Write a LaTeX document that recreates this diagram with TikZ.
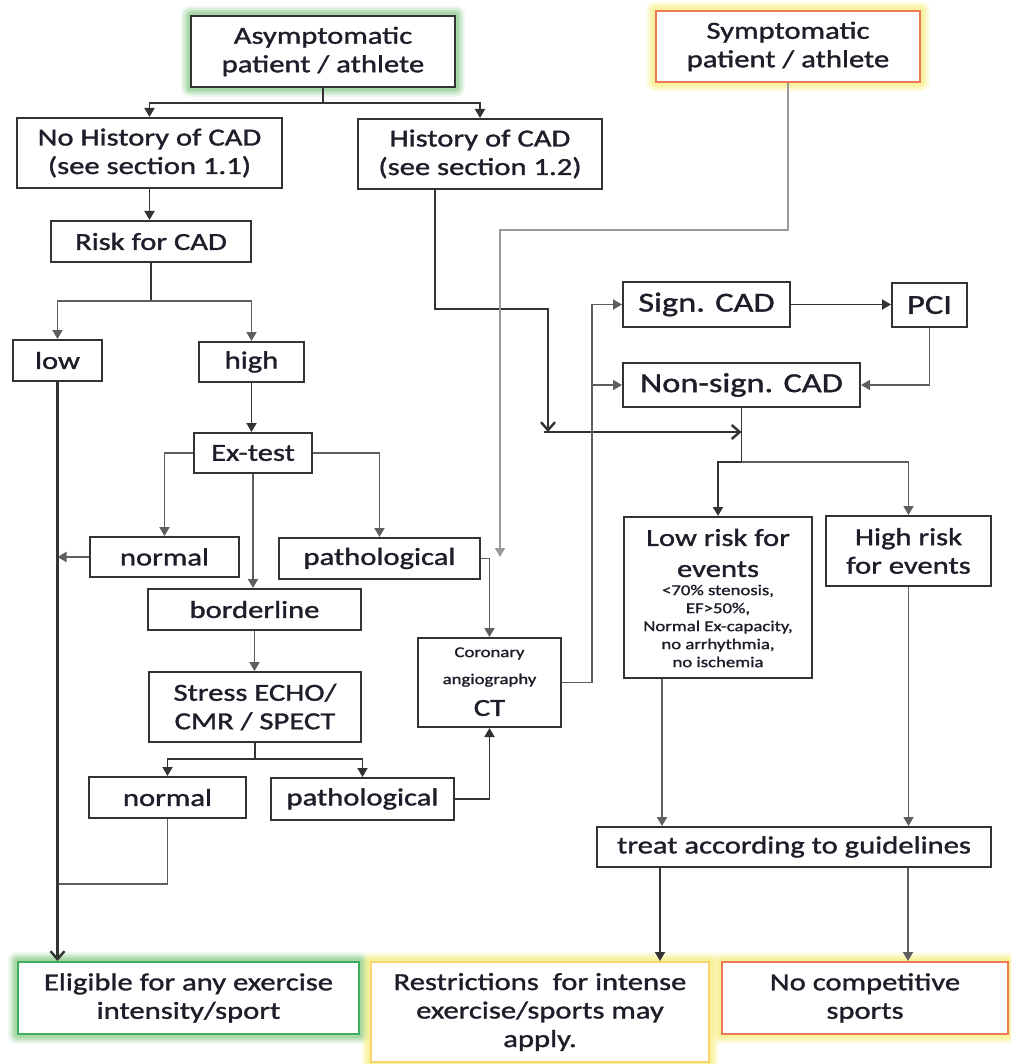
\documentclass[tikz,border=0pt]{standalone}
\usepackage{fontspec}
\setmainfont{Carlito}[FakeStretch=1.25,FakeBold=1.3]
\usetikzlibrary{arrows.meta,backgrounds,calc}
\definecolor{txt}{HTML}{1E1E2A}
\definecolor{boxc}{HTML}{333333}
\definecolor{lined}{HTML}{333333}
\definecolor{linem}{HTML}{5E5E5E}
\definecolor{linel}{HTML}{9A9A9A}
\definecolor{glowgreen}{HTML}{6DBE6D}
\definecolor{glowyellow}{HTML}{F3E85A}
\definecolor{greenb}{HTML}{3DAE5E}
\definecolor{orangeb}{HTML}{EE7A55}
\definecolor{goldb}{HTML}{F7D46E}
\newcommand{\fsmain}{\fontsize{24.5}{28.5}\selectfont}
\newcommand{\fsbig}{\fontsize{27.5}{31}\selectfont}
\newcommand{\fssmall}{\fontsize{15}{18}\selectfont}
\begin{document}
\begin{tikzpicture}[x=1pt,y=-1pt,
  box/.style={draw=boxc, line width=2pt, fill=white, inner sep=0pt, align=center, text=txt, font=\fsmain},
  txtnode/.style={inner sep=0pt, align=center, text=txt},
  conn/.style={draw=lined, line width=1.8pt},
  connm/.style={draw=linem, line width=1.8pt},
  connl/.style={draw=linel, line width=1.8pt},
  connd/.style={draw=lined, line width=2.4pt},
  arr/.style={-{Triangle[length=9pt,width=10pt]}},
  arrV/.style={-{Straight Barb[length=8pt,width=14pt]}}
]
\useasboundingbox (0,0) rectangle (1010,1064);

% ---------- nodes ----------
\node[box, minimum width=264pt, minimum height=71pt] (asym) at (323,51.5) {Asymptomatic\\patient / athlete};
\node[box, draw=orangeb, minimum width=264pt, minimum height=71pt] (symp) at (788,46.5) {Symptomatic\\patient / athlete};
\node[box, minimum width=265pt, minimum height=70pt] (nohist) at (149.5,153) {No History of CAD\\(see section 1.1)};
\node[box, minimum width=244pt, minimum height=70pt] (hist) at (480,154) {History of CAD\\(see section 1.2)};
\node[box, minimum width=200pt, minimum height=41pt] (risk) at (151,241.5) {Risk for CAD};
\node[box, minimum width=89pt, minimum height=41pt] (low) at (57.5,360.5) {low};
\node[box, minimum width=105pt, minimum height=40pt] (high) at (251.5,362) {high};
\node[box, minimum width=118pt, minimum height=40pt] (ex) at (253,453) {Ex-test};
\node[box, minimum width=149pt, minimum height=40pt] (norm1) at (164.5,557) {normal};
\node[box, minimum width=201pt, minimum height=41pt] (path1) at (379.5,558.5) {pathological};
\node[box, minimum width=213pt, minimum height=41pt] (border) at (254.5,609.5) {borderline};
\node[box, minimum width=212pt, minimum height=70pt] (stress) at (255,707) {Stress ECHO/\\CMR / SPECT};
\node[box, minimum width=157pt, minimum height=41pt] (norm2) at (167.5,797.5) {normal};
\node[box, minimum width=183pt, minimum height=42pt] (path2) at (362.5,799) {pathological};
\node[box, minimum width=143pt, minimum height=89pt] (ct) at (489.5,682.5) {};
\node[txtnode, font={\fontsize{15}{27}\selectfont}] (ct-a) at (489.5,667) {Coronary\\angiography};
\node[txtnode, font=\fsmain] (ct-b) at (489.5,708) {CT};
\node[box, font=\fsbig, minimum width=167pt, minimum height=45pt] (sign) at (706.5,304.5) {Sign. CAD};
\node[box, font=\fsbig, minimum width=75pt, minimum height=44pt] (pci) at (929.5,305) {PCI};
\node[box, font=\fsbig, minimum width=237pt, minimum height=44pt] (nonsign) at (741.5,385) {Non-sign. CAD};
\node[box, minimum width=188pt, minimum height=161pt] (lowrisk) at (718,597.5) {};
\node[txtnode, font={\fontsize{24.5}{31}\selectfont}] (lowrisk-a) at (718,553) {Low risk for\\events};
\node[txtnode, font=\fssmall] (lowrisk-b) at (718,626) {<70\% stenosis,\\EF>50\%,\\Normal Ex-capacity,\\no arrhythmia,\\no ischemia};
\node[box, minimum width=165pt, minimum height=70pt] (highrisk) at (908.5,551) {High risk\\for events};
\node[box, minimum width=394pt, minimum height=40pt] (treat) at (794,847) {treat according to guidelines};
\node[box, draw=greenb, minimum width=341pt, minimum height=72pt] (elig) at (188.5,998) {Eligible for any exercise\\intensity/sport};
\node[box, draw=goldb, minimum width=338pt, minimum height=100pt] (restr) at (540,1012) {Restrictions~~for intense\\exercise/sports may\\apply.};
\node[box, draw=orangeb, minimum width=286pt, minimum height=72pt] (nocomp) at (865,998) {No competitive\\sports};

% ---------- glows ----------
\begin{pgfonlayer}{background}
\foreach \n/\c in {asym/glowgreen, symp/glowyellow, elig/glowgreen, restr/glowyellow, nocomp/glowyellow}{
  \foreach \w/\o in {18/0.12, 14/0.16, 10/0.22, 6/0.3}{
    \draw[draw=\c, line width=\w pt, opacity=\o, line join=round] (\n.south west) rectangle (\n.north east);
  }
}
\end{pgfonlayer}

% ---------- connectors: left part ----------
\coordinate (j1) at (323,103);
\draw[conn] (asym.south) -- (j1);
\draw[conn,arr] (j1) -| (nohist.north);
\draw[conn,arr] (j1) -| (hist.north);
\draw[conn,arr] (nohist.south) -- (nohist.south |- risk.north);
\coordinate (j2) at (151,301);
\draw[conn] (risk.south) -- (j2);
\draw[connm,arr] (j2) -| (low.north);
\draw[connm,arr] (j2) -| (high.north);
\draw[conn,arr] (high.south) -- (high.south |- ex.north);
\draw[connm,arr] (ex.west) -| (norm1.north);
\draw[connm,arr] (ex.east) -| (path1.north);
\draw[connm,arr] (ex.south) -- (ex.south |- border.north);
\draw[connm,arr] (norm1.west) -- (norm1.west -| low.south);
\draw[connm,arr] (border.south) -- (border.south |- stress.north);
\coordinate (j3) at (255,759);
\draw[conn] (stress.south) -- (j3);
\draw[conn,arr] (j3) -| (norm2.north);
\draw[conn,arr] (j3) -| (path2.north);
\draw[conn,arr] (path2.east) -| (ct.south);
\draw[connm,arr] (path1.east) -| (ct.north);
\coordinate (j4) at (57.5,884);
\draw[connm] (norm2.south) |- (j4);
\draw[connd,arrV] (low.south) -- (low.south |- elig.north);

% ---------- connectors: right part ----------
\coordinate (hj) at (548,432);
\coordinate (jr) at (741.5,432);
\draw[connd,arrV] ([xshift=-45pt]hist.south) -- ++(0,119) -| (hj);
\draw[connd,arrV] ([xshift=-4pt]hj) -- (jr);
\coordinate (se) at (500,557);
\draw[connl,arr] (symp.south) -- ++(0,147) -| (se);
\coordinate (cv) at (592,0);
\draw[connm,arr] (ct.east) -| (cv |- sign.west) -- (sign.west);
\draw[connm,arr] (cv |- nonsign.west) -- (nonsign.west);
\draw[conn,arr] (sign.east) -- (sign.east -| pci.west);
\draw[connm,arr] (pci.south) |- (nonsign.east);
\coordinate (j5) at (741.5,462);
\draw[conn] (nonsign.south) -- (j5);
\draw[conn,arr] (j5) -| (lowrisk.north);
\draw[connm,arr] (j5) -| (highrisk.north);
\draw[connm,arr] ([xshift=-56pt]lowrisk.south) -- ([xshift=-56pt]lowrisk.south |- treat.north);
\draw[connm,arr] (highrisk.south) -- (highrisk.south |- treat.north);
\draw[conn,arr] ([xshift=-134pt]treat.south) -- ([xshift=-134pt]treat.south |- restr.north);
\draw[connm,arr] ([xshift=114pt]treat.south) -- ([xshift=114pt]treat.south |- nocomp.north);
\end{tikzpicture}
\end{document}
